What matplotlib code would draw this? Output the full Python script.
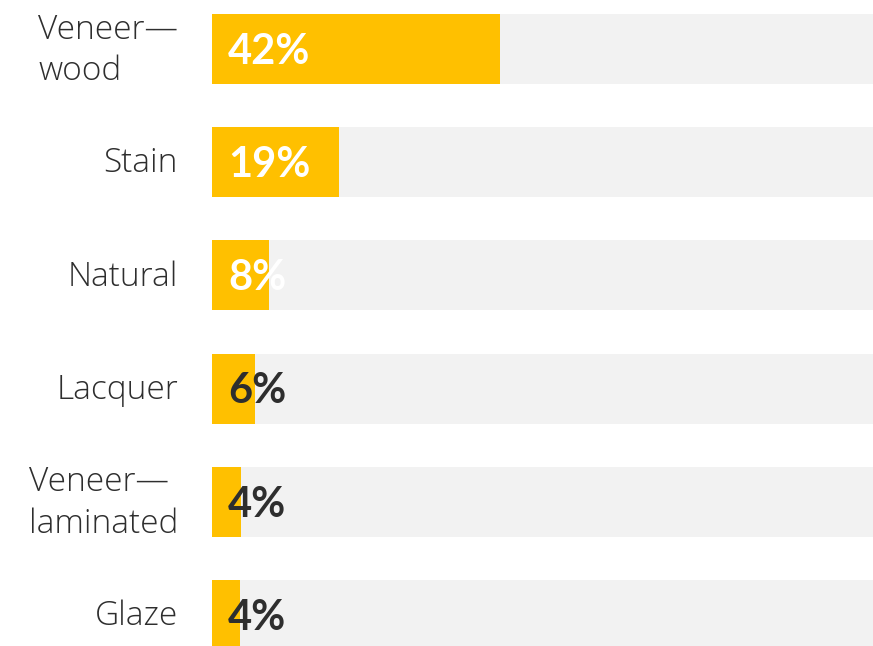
import matplotlib.pyplot as plt
from matplotlib import font_manager

# 데이터
categories = ["Veneer—\nwood", "Stain", "Natural", "Lacquer", "Veneer—\nlaminated", "Glaze"]
values = [41.8, 18.4, 8.3, 6.2, 4.2, 4.0]
value_labels = ["42%", "19%", "8%", "6%", "4%", "4%"]
axis_max = 96

YELLOW = "#FFC000"
GRAY = "#F2F2F2"
DARK = "#2E2E2E"

fams = {f.name for f in font_manager.fontManager.ttflist}
num_font = "Lato" if "Lato" in fams else "DejaVu Sans"
cat_font = "Open Sans" if "Open Sans" in fams else "DejaVu Sans"
plt.rcParams["font.family"] = [num_font, "DejaVu Sans"]

fig = plt.figure(figsize=(8.73, 6.46), dpi=100)
ax = fig.add_axes([212 / 873, 0, 1 - 212 / 873, 1])

pitch = 113.2
ys = list(range(len(categories)))
bar_h = 70 / pitch

ax.barh(ys, [axis_max] * len(ys), height=bar_h, color=GRAY, left=0)
ax.barh(ys, values, height=bar_h, color=YELLOW, left=0)

for i, (v, lab) in enumerate(zip(values, value_labels)):
    col = "white" if v > 8 else DARK
    ax.annotate(lab, xy=(0, i), xytext=(11.5, -2), textcoords="offset points",
                ha="left", va="center", fontsize=30, fontweight="bold", color=col)
    ax.annotate(categories[i], xy=(0, i), xytext=(-24.5, -1), textcoords="offset points",
                ha="right", va="center", multialignment="left", fontsize=24,
                family=[cat_font, "DejaVu Sans"], fontweight="light", color=DARK,
                linespacing=1.3, annotation_clip=False)

ax.set_xlim(0, axis_max)
ax.set_ylim((646 - 49) / pitch, -49 / pitch)
ax.axis("off")

fig.savefig("out.png", dpi=100)
